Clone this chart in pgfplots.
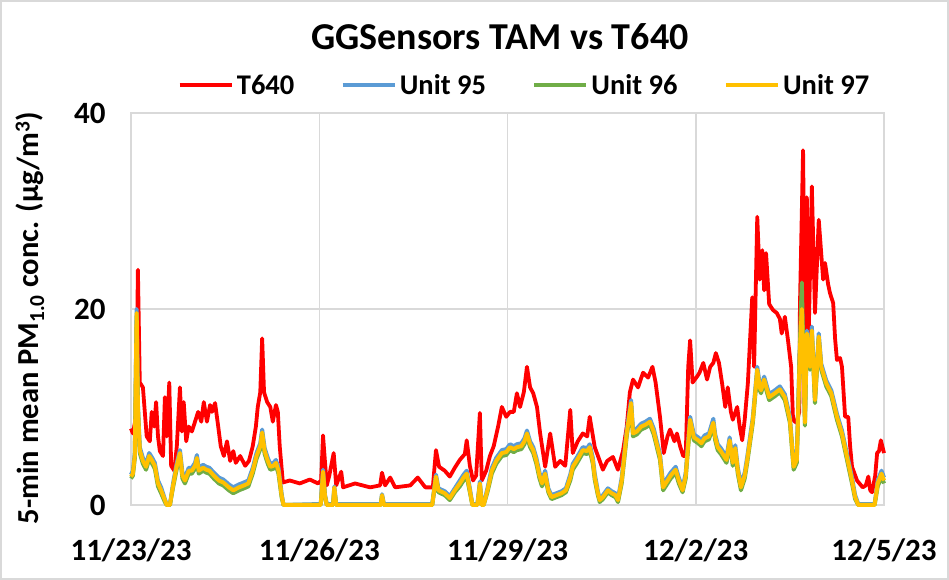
\documentclass[border=0pt]{standalone}
\usepackage{fontspec}
\setmainfont{Carlito}
\usepackage{pgfplots}
\usepackage{pgfplotstable}
\pgfplotsset{compat=1.18}

\definecolor{tred}{RGB}{255,0,0}
\definecolor{ublue}{RGB}{91,155,213}
\definecolor{ugreen}{RGB}{112,173,71}
\definecolor{uyellow}{RGB}{255,192,0}
\definecolor{gridgray}{RGB}{217,217,217}

% T640 reference monitor, x = days since 11/23/23
\pgfplotstableread{
day val
0.00 7.8
0.03 7.3
0.08 9.0
0.11 24.0
0.14 12.5
0.19 12.0
0.25 7.0
0.30 6.5
0.33 9.5
0.37 8.0
0.40 10.5
0.43 7.0
0.46 5.5
0.51 5.0
0.54 11.0
0.57 7.0
0.61 12.5
0.64 4.0
0.69 3.5
0.73 6.0
0.78 12.0
0.81 7.5
0.84 10.5
0.88 6.5
0.92 8.0
0.97 7.5
1.02 8.5
1.07 9.5
1.12 8.5
1.16 10.5
1.21 8.5
1.26 10.2
1.29 9.5
1.34 10.4
1.39 8.0
1.43 6.0
1.48 5.0
1.53 6.5
1.58 4.5
1.63 5.5
1.67 4.3
1.74 5.0
1.82 4.0
1.88 4.5
1.94 6.0
1.99 8.0
2.02 10.0
2.06 11.5
2.09 17.0
2.12 11.5
2.17 10.5
2.22 10.0
2.26 8.5
2.31 10.2
2.34 9.5
2.37 6.0
2.42 2.3
2.53 2.5
2.69 2.2
2.85 2.6
2.98 2.2
3.03 2.5
3.06 7.1
3.09 4.5
3.12 2.0
3.16 3.0
3.23 5.3
3.27 2.0
3.35 3.4
3.38 1.8
3.57 2.2
3.81 1.8
3.97 2.0
4.00 3.3
4.05 2.0
4.13 2.8
4.21 1.8
4.45 2.0
4.57 2.8
4.69 1.8
4.81 1.8
4.86 5.6
4.91 3.9
5.00 3.5
5.08 2.9
5.16 3.8
5.24 4.6
5.32 5.2
5.35 6.6
5.40 4.0
5.45 2.5
5.50 3.0
5.56 9.4
5.59 2.5
5.66 3.5
5.72 5.0
5.78 6.0
5.85 8.0
5.91 10.0
5.98 9.0
6.04 9.5
6.10 9.5
6.15 11.4
6.20 10.0
6.26 11.5
6.31 14.1
6.36 12.0
6.41 11.4
6.47 10.0
6.52 7.3
6.60 3.9
6.68 7.3
6.76 3.9
6.84 4.5
6.92 4.0
7.00 9.7
7.04 5.3
7.12 6.5
7.20 7.3
7.27 7.0
7.31 9.0
7.39 5.9
7.47 4.5
7.52 3.6
7.59 4.5
7.68 4.9
7.76 3.6
7.84 5.5
7.90 8.0
7.95 11.5
8.00 12.8
8.08 12.0
8.16 13.5
8.24 13.0
8.31 14.1
8.36 12.5
8.43 9.0
8.49 5.3
8.55 7.0
8.59 7.7
8.66 6.5
8.70 7.3
8.75 6.0
8.80 5.0
8.84 5.0
8.88 14.1
8.91 16.8
8.95 12.5
9.02 13.1
9.06 13.5
9.12 14.5
9.18 12.8
9.23 14.1
9.28 14.5
9.32 15.5
9.37 14.5
9.42 12.4
9.47 10.0
9.51 12.0
9.56 9.5
9.59 8.7
9.66 10.0
9.70 8.0
9.74 6.6
9.78 8.7
9.83 12.4
9.90 21.2
9.93 14.1
9.98 29.4
10.02 23.0
10.06 26.0
10.09 21.9
10.12 25.7
10.17 20.5
10.23 19.9
10.29 19.6
10.34 19.0
10.37 17.5
10.42 19.2
10.47 16.8
10.52 14.1
10.55 8.7
10.60 8.4
10.65 9.5
10.66 20.2
10.71 36.2
10.74 17.5
10.77 31.4
10.80 17.5
10.85 32.5
10.90 19.6
10.96 29.1
11.03 23.0
11.06 24.7
11.11 22.5
11.14 21.6
11.19 20.6
11.22 17.0
11.25 14.8
11.30 15.0
11.33 14.1
11.38 9.0
11.43 9.0
11.46 6.0
11.49 3.9
11.57 2.5
11.66 1.8
11.71 2.0
11.75 2.9
11.78 1.5
11.81 1.3
11.86 3.0
11.89 5.3
11.92 5.5
11.95 6.6
12.00 5.3
}\redtab

% GGSensors TAM units 95, 96, 97
\pgfplotstableread{
day u95 u96 u97
0.00 3.1 2.7 2.9
0.03 3.5 3.0 3.2
0.06 5.3 4.7 5.0
0.09 20.0 19.3 19.6
0.11 10.3 9.7 10.0
0.14 5.9 5.3 5.6
0.19 4.8 4.2 4.5
0.24 4.2 3.6 3.9
0.29 5.3 4.7 5.0
0.33 4.9 4.3 4.6
0.38 4.3 3.7 4.0
0.43 2.5 1.9 2.2
0.48 1.8 1.2 1.5
0.54 0.6 0.3 0.5
0.57 0 0 0
0.62 0 0 0
0.67 2.2 1.8 2.0
0.73 4.3 3.7 4.0
0.78 5.6 5.0 5.3
0.82 3.3 2.7 3.0
0.86 2.8 2.2 2.5
0.92 3.8 3.2 3.5
0.97 3.8 3.2 3.5
1.02 4.3 3.7 4.0
1.05 5.1 4.5 4.8
1.08 3.8 3.2 3.5
1.15 4.1 3.5 3.8
1.20 3.9 3.3 3.6
1.25 3.8 3.2 3.5
1.32 3.3 2.7 3.0
1.40 2.8 2.2 2.5
1.47 2.6 2.0 2.3
1.56 2.1 1.5 1.8
1.63 1.8 1.2 1.5
1.72 2.1 1.5 1.8
1.80 2.3 1.7 2.0
1.87 2.5 1.9 2.2
1.94 3.8 3.2 3.5
2.00 5.3 4.7 5.0
2.06 6.3 5.7 6.0
2.09 7.7 7.1 7.4
2.13 5.8 5.2 5.5
2.18 4.8 4.2 4.5
2.22 4.2 3.6 3.9
2.27 4.3 3.7 4.0
2.31 4.6 4.0 4.3
2.35 3.8 3.2 3.5
2.40 1.2 0.8 1.0
2.43 0 0 0
3.02 0.1 0 0
3.03 0.6 0.4 0.5
3.06 3.6 3.2 3.4
3.09 1.1 0.9 1.0
3.12 0.1 0 0
3.22 0.1 0 0
3.24 1.9 1.6 1.8
3.27 0.1 0 0
3.98 0.1 0 0
4.00 1.1 0.9 1.0
4.03 0.1 0 0
4.80 0.1 0 0
4.86 3.1 2.7 2.9
4.90 1.7 1.3 1.5
5.00 1.4 1.0 1.2
5.08 0.9 0.5 0.7
5.16 1.7 1.3 1.5
5.24 2.5 1.9 2.2
5.30 3.1 2.5 2.8
5.35 3.5 2.9 3.2
5.40 1.7 1.3 1.5
5.44 0.1 0 0
5.52 0.1 0 0
5.56 2.4 2.0 2.2
5.59 0.1 0 0
5.62 0.1 0 0
5.68 1.7 1.3 1.5
5.75 3.8 3.2 3.5
5.82 4.8 4.2 4.5
5.91 5.6 5.0 5.3
5.98 5.7 5.1 5.4
6.04 6.2 5.6 5.9
6.10 6.0 5.4 5.7
6.15 6.2 5.6 5.9
6.22 6.3 5.7 6.0
6.27 6.8 6.2 6.5
6.31 7.6 7.0 7.3
6.36 6.5 5.9 6.2
6.41 5.9 5.3 5.6
6.46 4.8 4.2 4.5
6.51 3.3 2.7 3.0
6.55 2.5 1.9 2.2
6.60 3.5 2.9 3.2
6.65 1.7 1.3 1.5
6.70 1.0 0.6 0.8
6.78 1.2 0.8 1.0
6.86 1.4 1.0 1.2
6.93 1.7 1.3 1.5
7.00 3.1 2.5 2.8
7.04 4.2 3.6 3.9
7.10 4.8 4.2 4.5
7.20 5.9 5.3 5.6
7.27 5.8 5.2 5.5
7.31 6.2 5.6 5.9
7.36 4.8 4.2 4.5
7.39 3.2 2.6 2.9
7.44 1.4 1.0 1.2
7.47 0.6 0.3 0.5
7.52 1.0 0.6 0.8
7.60 1.7 1.3 1.5
7.66 1.4 1.0 1.2
7.72 1.2 0.8 1.0
7.76 0.6 0.3 0.5
7.82 2.8 2.2 2.5
7.90 7.6 7.0 7.3
7.97 10.7 10.1 10.4
8.00 7.6 7.0 7.3
8.06 7.8 7.2 7.5
8.13 8.3 7.7 8.0
8.20 8.5 7.9 8.2
8.27 8.8 8.2 8.5
8.33 7.8 7.2 7.5
8.43 5.2 4.6 4.9
8.48 2.1 1.5 1.8
8.55 2.8 2.2 2.5
8.60 3.3 2.7 3.0
8.68 3.9 3.3 3.6
8.73 2.8 2.2 2.5
8.79 1.7 1.3 1.5
8.84 3.3 2.7 3.0
8.91 9.0 8.4 8.7
8.97 7.2 6.6 6.9
9.04 6.9 6.3 6.6
9.09 6.6 6.0 6.3
9.14 7.1 6.5 6.8
9.21 7.3 6.7 7.0
9.28 8.8 8.1 8.4
9.31 7.2 6.6 6.9
9.35 6.2 5.6 5.9
9.40 5.8 5.2 5.5
9.49 4.9 4.3 4.6
9.54 6.9 6.3 6.6
9.59 4.6 4.0 4.3
9.63 6.1 5.5 5.8
9.67 3.8 3.2 3.5
9.72 2.1 1.5 1.8
9.78 3.3 2.7 3.0
9.82 4.9 4.3 4.6
9.91 9.0 8.4 8.7
9.98 14.1 13.5 13.8
10.02 12.3 11.7 12.0
10.04 12.0 11.4 11.7
10.09 13.1 12.5 12.8
10.17 11.3 10.7 11.0
10.26 11.7 11.1 11.4
10.34 12.1 11.5 11.8
10.42 11.3 10.7 11.0
10.50 9.0 8.4 8.7
10.56 4.2 3.6 3.9
10.61 4.9 4.3 4.6
10.66 16.1 16.5 15.8
10.69 20.4 22.7 20.0
10.74 8.7 8.1 8.4
10.77 17.8 17.2 17.5
10.82 14.4 13.8 14.1
10.85 18.2 17.4 17.8
10.90 11.0 10.4 10.7
10.96 17.5 16.9 17.2
11.00 14.4 13.8 14.1
11.08 12.7 12.1 12.4
11.16 11.7 11.1 11.4
11.25 9.3 8.7 9.0
11.33 7.6 7.0 7.3
11.41 5.2 4.6 4.9
11.49 2.8 2.2 2.5
11.54 1.0 0.6 0.8
11.59 0.1 0 0
11.85 0.1 0 0
11.90 2.5 1.9 2.2
11.96 3.5 2.9 3.2
12.00 2.8 2.2 2.5
}\unittab

\pgfplotsset{
  linelegend/.style={legend image code/.code={\draw[##1, line width=4.5pt] (0pt,0pt) -- (52pt,0pt);}},
}

\begin{document}
\begin{tikzpicture}[x=1pt,y=1pt]
\path[use as bounding box] (0,0) rectangle (949,580);
\draw[gridgray, line width=1.5pt] (1,1) rectangle (948,579);

\begin{axis}[
  at={(131pt,75pt)}, anchor=south west,
  scale only axis, width=753pt, height=392pt,
  xmin=0, xmax=12, ymin=0, ymax=40,
  xtick={0,3,6,9,12},
  xticklabels={11/23/23,11/26/23,11/29/23,12/2/23,12/5/23},
  ytick={0,20,40},
  grid=major,
  major grid style={gridgray, line width=1.5pt},
  axis line style={gridgray, line width=1.5pt},
  major tick length=0pt,
  clip=false,
  ticklabel style={font=\fontsize{31}{31}\selectfont\bfseries},
  /pgf/number format/assume math mode=true,
  xticklabel style={yshift=-30pt},
  yticklabel style={xshift=-22pt},
  linelegend,
  legend columns=4,
  legend style={at={(0.523,1.071)}, anchor=center, draw=none, fill=none,
    font=\fontsize{28.5}{28.5}\selectfont\bfseries,
    nodes={inner xsep=3pt},
    /tikz/every even column/.append style={column sep=43pt}},
]
\addplot[tred, line width=3.8pt, line join=round] table[x=day, y=val] {\redtab};
\addplot[ublue, line width=4pt, line join=round] table[x=day, y=u95] {\unittab};
\addplot[ugreen, line width=4pt, line join=round] table[x=day, y=u96] {\unittab};
\addplot[uyellow, line width=4pt, line join=round] table[x=day, y=u97] {\unittab};
\legend{T640, Unit 95, Unit 96, Unit 97}
\end{axis}

\node[font=\fontsize{38}{38}\selectfont\bfseries] at (500pt,543pt) {GGSensors TAM vs T640};
\node[rotate=90, font=\fontsize{30.5}{30.5}\selectfont\bfseries] at (30pt,262pt)
  {5-min mean PM\textsubscript{1.0} conc. (µg/m\textsuperscript{3})};
\end{tikzpicture}
\end{document}
